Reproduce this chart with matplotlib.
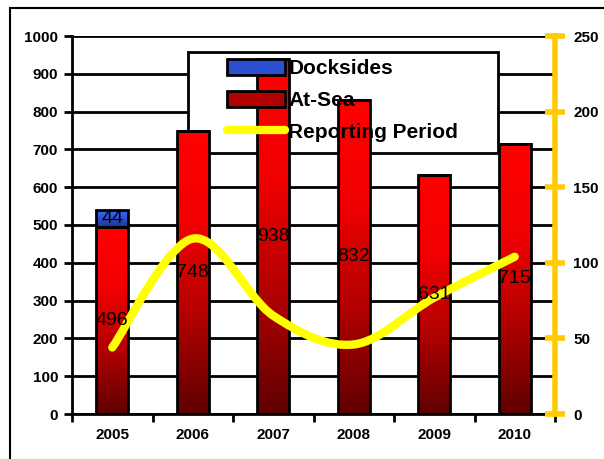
import numpy as np
import matplotlib
matplotlib.use('Agg')
import matplotlib.pyplot as plt
from matplotlib.patches import Rectangle, PathPatch
from matplotlib.path import Path
from matplotlib.lines import Line2D
from matplotlib.colors import LinearSegmentedColormap

plt.rcParams['font.family'] = ['Liberation Sans', 'DejaVu Sans']

# Data
years = ['2005', '2006', '2007', '2008', '2009', '2010']
at_sea = [496, 748, 938, 832, 631, 715]
docksides = [44, 0, 0, 0, 0, 0]
reporting_period = [44, 116, 65, 46, 77, 104]

red_cmap = LinearSegmentedColormap.from_list('red', ['#600000', '#B00000', '#F00000', '#FF0000'])
blue_cmap = LinearSegmentedColormap.from_list('blue', ['#1A3399', '#2A4FD0', '#3A6BFF'])
yellow = '#FFFF00'
axis_yellow = '#FFCC00'

fig = plt.figure(figsize=(6.04, 4.59), dpi=100)
# outer chart frame (only top/left visible in the picture)
fig.patches.append(Rectangle((10 / 604, -0.1), 1.2, (459 - 8) / 459 + 0.1, transform=fig.transFigure,
                             fill=False, edgecolor='black', linewidth=1.5))

ax = fig.add_axes([72 / 604, 45 / 459, 483 / 604, 378 / 459])
x = np.arange(len(years))
bar_w = 0.4

ax.set_axisbelow(True)
ax.yaxis.grid(True, color='black', linewidth=2)

grad = np.linspace(0, 1, 256).reshape(-1, 1)

def gradient_bar(xc, bottom, height, cmap):
    if height <= 0:
        return
    ax.imshow(grad, cmap=cmap, origin='lower', aspect='auto',
              extent=[xc - bar_w / 2, xc + bar_w / 2, bottom, bottom + height], zorder=2)

ax.bar(x, at_sea, bar_w, facecolor='none', edgecolor='black', linewidth=2, zorder=3)
ax.bar(x, docksides, bar_w, bottom=at_sea, facecolor='none', edgecolor='black',
       linewidth=2, zorder=3)
for i in range(len(years)):
    gradient_bar(x[i], 0, at_sea[i], red_cmap)
    gradient_bar(x[i], at_sea[i], docksides[i], blue_cmap)
ax.set_xlim(-0.5, 5.5)
ax.set_ylim(0, 1000)

ax.set_yticks(np.arange(0, 1001, 100))
ax.set_xticks(x)
ax.set_xticklabels(years)
ax.set_xticks(np.arange(-0.5, 6, 1), minor=True)
ax.tick_params(axis='x', which='major', length=0, pad=10, labelsize=11)
ax.tick_params(axis='x', which='minor', length=6, width=2, direction='out')
ax.tick_params(axis='y', length=6, width=2, direction='out', labelsize=11, pad=4)
for lab in ax.get_xticklabels() + ax.get_yticklabels():
    lab.set_fontweight('bold')
for s in ['top', 'right']:
    ax.spines[s].set_visible(False)
for s in ['left', 'bottom']:
    ax.spines[s].set_linewidth(2)

# legend frame behind bars
ax.add_patch(Rectangle((188 / 604, (459 - 153) / 459), (498 - 188) / 604, (153 - 52) / 459,
                       transform=fig.transFigure, facecolor='white', edgecolor='black',
                       linewidth=2, zorder=1))

ax2 = ax.twinx()
ax2.set_ylim(0, 250)
ax2.set_yticks(np.arange(0, 251, 50))
for s in ['top', 'left', 'bottom']:
    ax2.spines[s].set_visible(False)
ax2.spines['right'].set_color(axis_yellow)
ax2.spines['right'].set_linewidth(4)
ax2.tick_params(axis='y', direction='inout', length=14, width=4, color=axis_yellow,
                labelsize=11, pad=6)
for lab in ax2.get_yticklabels():
    lab.set_fontweight('bold')

# smoothed line through the points (Catmull-Rom as Bezier segments)
pts = np.column_stack([x, reporting_period]).astype(float)
verts = [tuple(pts[0])]
codes = [Path.MOVETO]
n = len(pts)
for i in range(n - 1):
    p0 = pts[max(i - 1, 0)]
    p1 = pts[i]
    p2 = pts[i + 1]
    p3 = pts[min(i + 2, n - 1)]
    c1 = p1 + (p2 - p0) / 6
    c2 = p2 - (p3 - p1) / 6
    verts += [tuple(c1), tuple(c2), tuple(p2)]
    codes += [Path.CURVE4] * 3
ax2.add_patch(PathPatch(Path(verts, codes), fill=False, edgecolor=yellow, linewidth=6,
                        capstyle='round', joinstyle='round', zorder=5))

# bar value labels sit above the line
for i in range(len(years)):
    ax2.text(x[i], at_sea[i] / 2, str(at_sea[i]), transform=ax.transData, ha='center',
             va='center', fontsize=14, zorder=6)
    if docksides[i] > 0:
        ax2.text(x[i], at_sea[i] + docksides[i] / 2, str(docksides[i]), transform=ax.transData,
                 ha='center', va='center', fontsize=14, zorder=6)

handles = [Rectangle((0, 0), 1, 1, facecolor='#2A4FD0', edgecolor='black', linewidth=2),
           Rectangle((0, 0), 1, 1, facecolor='#B00000', edgecolor='black', linewidth=2),
           Line2D([0], [0], color=yellow, linewidth=6, solid_capstyle='round')]
leg = ax2.legend(handles, ['Docksides', 'At-Sea', 'Reporting Period'], frameon=False,
                 loc='upper left', bbox_to_anchor=(227 / 604, (459 - 59) / 459),
                 bbox_transform=fig.transFigure, prop={'weight': 'bold', 'size': 15},
                 handlelength=2.8, handleheight=0.8, handletextpad=0.15, labelspacing=0.6,
                 borderaxespad=0, borderpad=0)
leg.set_zorder(10)

fig.savefig('out.png', dpi=100)
